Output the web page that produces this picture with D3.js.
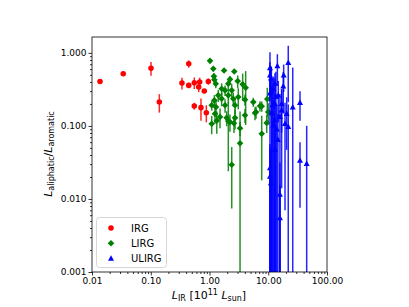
<!DOCTYPE html>
<html><head><meta charset="utf-8">
<script src="https://cdn.jsdelivr.net/npm/d3@7"></script>
<style>body{margin:0;background:#fff}svg{display:block}text{font-family:"DejaVu Sans",sans-serif}</style>
</head><body>
<script>
// IRG: [L_IR (1e11 Lsun), ratio, y-error]
const irgX = [0.0137,0.034,0.101,0.140,0.443,0.340,0.443,0.551,0.681,0.655,0.815,0.955,0.551,0.716,0.883];
const irgY = [0.407,0.517,0.618,0.212,0.708,0.386,0.359,0.390,0.398,0.340,0.300,0.407,0.187,0.178,0.152];
const irgE = [0.03,0.03,0.13,0.06,0.08,0.07,0.03,0.07,0.06,0.05,0.02,0.04,0.02,0.06,0.04];

const lirgX = [1.02,1.16,1.77,2.64,1.19,1.21,1.28,2.23,2.09,3.02,3.67,4.13,1.61,1.84,2.39,1.41,2.09,1.21,1.61,2.54,3.09,5.57,4.02,1.09,1.29,1.84,2.72,4.02,5.95,7.74,1.24,1.51,1.96,2.72,2.23,1.09,1.33,2.09,2.61,3.31,3.31,2.39,7.74,9.63,7.24,6.19,10.0,9.41];
const lirgY = [0.778,0.605,0.575,0.557,0.477,0.428,0.378,0.434,0.378,0.411,0.371,0.333,0.323,0.307,0.307,0.262,0.262,0.224,0.236,0.236,0.249,0.212,0.229,0.192,0.182,0.192,0.192,0.140,0.150,0.186,0.147,0.133,0.129,0.129,0.113,0.107,0.118,0.117,0.109,0.093,0.058,0.0294,0.078,0.233,0.187,0.155,0.155,0.110];
const lirgE = [0.03,0.05,0.04,0.04,0.05,0.06,0.05,0.05,0.06,0.08,0.15,0.23,0.06,0.05,0.07,0.05,0.06,0.04,0.05,0.05,0.08,0.03,0.04,0.03,0.05,0.04,0.05,0.03,0.03,0.03,0.04,0.04,0.03,0.04,0.03,0.03,0.04,0.093,0.029,0.02,0.1,0.022,0.06,0.1,0.03,0.03,0.05,0.03];

const ulirgX = [10.7,14.3,21.9,10.7,11.1,12.2,10.7,13.0,18.0,14.8,16.9,13.0,20.6,15.8,19.3,21.9,12.2,16.9,11.9,26.1,34.7,34.7,45.1,10.7,10.7,11.1,15.8,15.8,13.0,14.6,18.3,11.5,12.8,14.0,13.5,11.3];
const ulirgY = [0.618,0.659,0.731,0.492,0.448,0.323,0.279,0.378,0.348,0.262,0.201,0.201,0.147,0.133,0.107,0.0969,0.102,0.164,0.193,0.180,0.208,0.0336,0.0303,0.0265,0.0203,0.0165,0.0115,0.0055,0.047,0.0644,0.492,0.150,0.120,0.090,0.250,0.300];
const ulirgE = [0.4,0.3,0.52,0.25,0.2,0.15,0.3,0.15,0.2,0.15,0.12,0.25,0.1,0.14,0.1,0.1,0.12,0.15,0.25,0.45,0.09,0.026,0.07,0.03,0.03,0.03,0.02,0.01,0.06,0.08,0.2,0.2,0.15,0.1,0.3,0.35];

const xTicks = [0.01,0.1,1,10,100];
const yTicks = [0.001,0.01,0.1,1];
const legendLabels = ["IRG","LIRG","ULIRG"];

const W=409,H=307;
const svg=d3.select("body").append("svg").attr("width",W).attr("height",H);
const x=d3.scaleLog().domain([0.01,100]).range([92,327]);
const y=d3.scaleLog().domain([0.001,1.65]).range([272,37]);

svg.append("clipPath").attr("id","clip").append("rect")
  .attr("x",92).attr("y",37).attr("width",235).attr("height",235);

function minorTicks(dom){const out=[];for(let e=Math.floor(Math.log10(dom[0]));e<=Math.ceil(Math.log10(dom[1]));e++){for(let k=2;k<10;k++){const v=k*Math.pow(10,e);if(v>dom[0]&&v<dom[1])out.push(v);}}return out;}

// axes
const xAxis=svg.append("g").attr("transform","translate(0,272)")
  .call(d3.axisBottom(x).tickValues(xTicks).tickFormat(d3.format(".2f")).tickSize(3.5).tickPadding(2));
const xMin=svg.append("g").attr("transform","translate(0,272)")
  .call(d3.axisBottom(x).tickValues(minorTicks(x.domain())).tickFormat("").tickSize(2));
const yAxis=svg.append("g").attr("transform","translate(92,0)")
  .call(d3.axisLeft(y).tickValues(yTicks).tickFormat(d3.format(".3f")).tickSize(3.5).tickPadding(2));
const yMin=svg.append("g").attr("transform","translate(92,0)")
  .call(d3.axisLeft(y).tickValues(minorTicks(y.domain())).tickFormat("").tickSize(2));
[xAxis,xMin,yAxis,yMin].forEach(g=>{g.select(".domain").remove();g.selectAll("line").attr("stroke","#000").attr("stroke-width",0.8);
  g.selectAll("text").attr("font-size",9).attr("fill","#000").attr("font-family","DejaVu Sans");});

const series=[
  {X:irgX,Y:irgY,E:irgE,color:"#ff0000",shape:"o"},
  {X:lirgX,Y:lirgY,E:lirgE,color:"#008000",shape:"D"},
  {X:ulirgX,Y:ulirgY,E:ulirgE,color:"#0000ff",shape:"^"}
];
function shapePath(s){
  if(s==="o") return d3.symbol(d3.symbolCircle,24)();
  if(s==="D") return "M0,-3.3L3.3,0L0,3.3L-3.3,0Z";
  return "M0,-3.3L3,2.2L-3,2.2Z";
}
const plot=svg.append("g").attr("clip-path","url(#clip)");
series.forEach(s=>{
  const data=s.X.map((v,i)=>({x:v,y:s.Y[i],e:s.E[i]}));
  plot.append("g").selectAll("line").data(data).join("line")
    .attr("x1",d=>x(d.x)).attr("x2",d=>x(d.x))
    .attr("y1",d=>y(d.y+d.e))
    .attr("y2",d=>d.y-d.e>0?y(d.y-d.e):300)
    .attr("stroke",s.color).attr("stroke-width",1.5).attr("opacity",0.85);
  plot.append("g").selectAll("path").data(data).join("path")
    .attr("transform",d=>`translate(${x(d.x)},${y(d.y)})`)
    .attr("d",shapePath(s.shape)).attr("fill",s.color);
});

// frame
svg.append("rect").attr("x",92).attr("y",37).attr("width",235).attr("height",235)
  .attr("fill","none").attr("stroke","#000").attr("stroke-width",0.8);

// legend
const lg=svg.append("g");
lg.append("rect").attr("x",96.5).attr("y",217.5).attr("width",70).attr("height",50).attr("rx",3)
  .attr("fill","#fff").attr("fill-opacity",0.8).attr("stroke","#ccc").attr("stroke-width",0.8);
legendLabels.forEach((t,i)=>{
  const yy=228+i*15.3;
  lg.append("path").attr("transform",`translate(111,${yy})`).attr("d",shapePath(series[i].shape)).attr("fill",series[i].color);
  lg.append("text").attr("x",131).attr("y",yy+3.6).attr("font-size",10).text(t);
});

// axis labels
const xl=svg.append("text").attr("x",209).attr("y",299).attr("text-anchor","middle").attr("font-size",11);
xl.append("tspan").attr("font-style","italic").text("L");
xl.append("tspan").attr("font-size",8).attr("dy",2).text("IR");
xl.append("tspan").attr("dy",-2).text(" [10");
xl.append("tspan").attr("font-size",8).attr("dy",-4).text("11");
xl.append("tspan").attr("dy",4).text(" ");
xl.append("tspan").attr("font-style","italic").text("L");
xl.append("tspan").attr("font-size",8).attr("dy",2).text("sun");
xl.append("tspan").attr("dy",-2).text("]");

const yl=svg.append("text").attr("transform","translate(52,154) rotate(-90)").attr("text-anchor","middle").attr("font-size",11);
yl.append("tspan").attr("font-style","italic").text("L");
yl.append("tspan").attr("font-size",8).attr("dy",2).text("aliphatic");
yl.append("tspan").attr("dy",-2).text("/");
yl.append("tspan").attr("font-style","italic").text("L");
yl.append("tspan").attr("font-size",8).attr("dy",2).text("aromatic");
</script>
</body></html>
